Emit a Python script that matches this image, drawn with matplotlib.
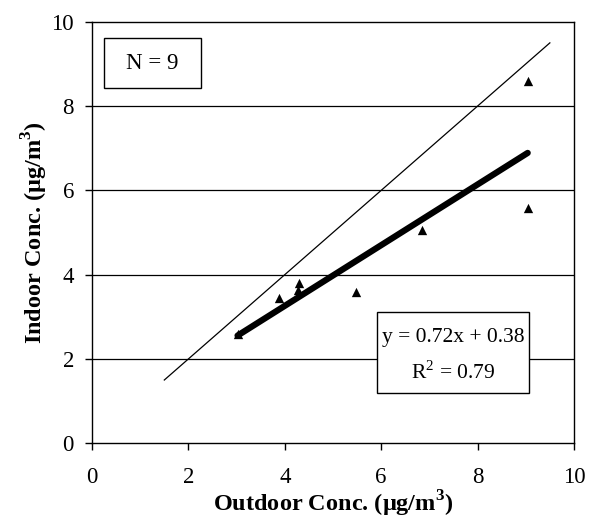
import matplotlib
matplotlib.use("Agg")
import matplotlib.pyplot as plt
from matplotlib.patches import Rectangle

# Indoor vs outdoor concentrations (µg/m3)
outdoor = [3.02, 3.87, 4.27, 4.30, 5.47, 6.85, 9.04, 9.04]
indoor = [2.60, 3.45, 3.63, 3.80, 3.59, 5.07, 8.59, 5.57]

slope, intercept = 0.72, 0.38
one_to_one = [1.5, 9.5]

x_ticks = [0, 2, 4, 6, 8, 10]
y_ticks = [0, 2, 4, 6, 8, 10]

plt.rcParams["font.family"] = ["Liberation Serif", "DejaVu Serif"]
plt.rcParams["mathtext.fontset"] = "custom"
plt.rcParams["mathtext.rm"] = "Liberation Serif"
plt.rcParams["mathtext.bf"] = "Liberation Serif:bold"

FS = 16.5
LFS = 17.5

fig = plt.figure(figsize=(5.99, 5.19), dpi=100, facecolor="white")
ax = fig.add_axes([0.1536, 0.146, 0.8046, 0.812])

for y in y_ticks[1:-1]:
    ax.axhline(y, color="black", linewidth=0.9, zorder=1)

ax.plot(one_to_one, one_to_one, color="black", linewidth=0.9, zorder=2)

x0, x1 = min(outdoor), max(outdoor)
ax.plot([x0, x1], [slope * x0 + intercept, slope * x1 + intercept],
        color="black", linewidth=4.5, solid_capstyle="round", zorder=3)

ax.scatter(outdoor, indoor, marker="^", s=45, color="black", zorder=4,
           linewidths=0)

# N box
ax.add_patch(Rectangle((0.25, 8.42), 2.01, 1.2, facecolor="white",
                       edgecolor="black", linewidth=1.0, zorder=5))
ax.text(1.255, 9.0, "N = 9", ha="center", va="center", fontsize=FS, zorder=6)

# regression box
ax.add_patch(Rectangle((5.91, 1.19), 3.16, 1.925, facecolor="white",
                       edgecolor="black", linewidth=1.0, zorder=5))
ax.text(7.49, 2.52, "y = 0.72x + 0.38", ha="center", va="center",
        fontsize=15.5, zorder=6)
ax.text(7.49, 1.68, r"R$^2$ = 0.79", ha="center", va="center",
        fontsize=15.5, zorder=6)

ax.set_xlim(0, 10)
ax.set_ylim(0, 10)
ax.set_xticks(x_ticks)
ax.set_yticks(y_ticks)
ax.tick_params(direction="out", length=5, width=1, labelsize=FS, colors="black")
ax.tick_params(axis="x", pad=12)
ax.tick_params(axis="y", pad=8)
for s in ax.spines.values():
    s.set_linewidth(1.0)

ax.set_xlabel(r"Outdoor Conc. ($\mathbf{\mu}$g/m$^{\mathbf{3}}$)",
              fontsize=LFS, fontweight="bold")
ax.set_ylabel(r"Indoor Conc. ($\mathbf{\mu}$g/m$^{\mathbf{3}}$)",
              fontsize=LFS, fontweight="bold")
ax.xaxis.set_label_coords(0.5, -0.107)
ax.yaxis.set_label_coords(-0.088, 0.5)

fig.savefig("out.png", dpi=100, facecolor="white")
